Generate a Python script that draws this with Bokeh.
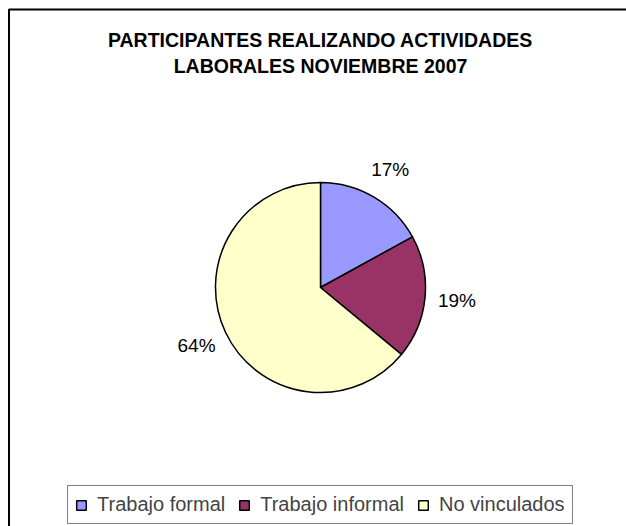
import math
from bokeh.plotting import figure
from bokeh.models import ColumnDataSource, Range1d, BoxAnnotation, Label, Legend, LegendItem
from bokeh.core.properties import value
from bokeh.embed import file_html
from bokeh.resources import INLINE

# ---- data ----
title_lines = ["PARTICIPANTES REALIZANDO ACTIVIDADES", "LABORALES NOVIEMBRE 2007"]
categories = ["Trabajo formal", "Trabajo informal", "No vinculados"]
values = [17, 19, 64]
colors = ["#9999FF", "#993366", "#FFFFCC"]

# ---- geometry (page pixel based coordinates) ----
W, H = 626, 526
PAGE_H = 526
cx, cy = 320, PAGE_H - 287
radius = 105
label_r = 137

total = float(sum(values))
starts, ends, lx, ly, ltext = [], [], [], [], []
cum = 0.0
for v in values:
    a0 = math.pi / 2 - 2 * math.pi * cum / total
    a1 = math.pi / 2 - 2 * math.pi * (cum + v) / total
    mid = math.pi / 2 - 2 * math.pi * (cum + v / 2) / total
    starts.append(a0)
    ends.append(a1)
    lx.append(cx + label_r * math.cos(mid))
    ly.append(cy + label_r * math.sin(mid))
    ltext.append(f"{v / total * 100:.0f}%")
    cum += v

src = ColumnDataSource(dict(cat=categories, val=values, color=colors,
                            start=starts, end=ends, lx=lx, ly=ly, ltext=ltext))

p = figure(width=W, height=H, output_backend="svg", toolbar_location=None,
           x_range=Range1d(0, W), y_range=Range1d(PAGE_H - H, PAGE_H),
           x_axis_location=None, y_axis_location=None, min_border=0,
           outline_line_color=None, background_fill_color="white",
           border_fill_color="white")
p.grid.visible = False

# chart-area border (top and left visible; right/bottom lie beyond the picture)
p.add_layout(BoxAnnotation(left=8.5, right=W + 60, top=PAGE_H - 9, bottom=-60,
                           fill_alpha=0, line_color="black", line_width=2,
                           line_alpha=1))

wedges = p.wedge(x=cx, y=cy, radius=radius, start_angle="start", end_angle="end",
                 direction="clock", fill_color="color", line_color="black",
                 line_width=1.5, source=src)

p.text(x="lx", y="ly", text="ltext", source=src, text_align="center",
       text_baseline="middle", text_font=value("Liberation Sans"),
       text_font_size="19px", text_color="black")

for i, (line, py) in enumerate(zip(title_lines, [39.5, 65])):
    p.add_layout(Label(x=320, y=PAGE_H - py, text=line, text_align="center",
                       text_baseline="middle", text_font="Liberation Sans",
                       text_font_style="bold", text_font_size="19.5px",
                       text_color="black"))

legend = Legend(items=[LegendItem(label=c, renderers=[wedges], index=i)
                       for i, c in enumerate(categories)],
                orientation="horizontal", location=(67, 2), margin=0,
                padding=7, spacing=13, label_standoff=10,
                glyph_width=12, glyph_height=12,
                label_text_font="Liberation Sans", label_text_font_size="20px",
                border_line_color="black", border_line_width=1.5,
                background_fill_color="white", background_fill_alpha=1.0)
p.add_layout(legend)

open("out.html", "w").write(file_html(p, INLINE))
